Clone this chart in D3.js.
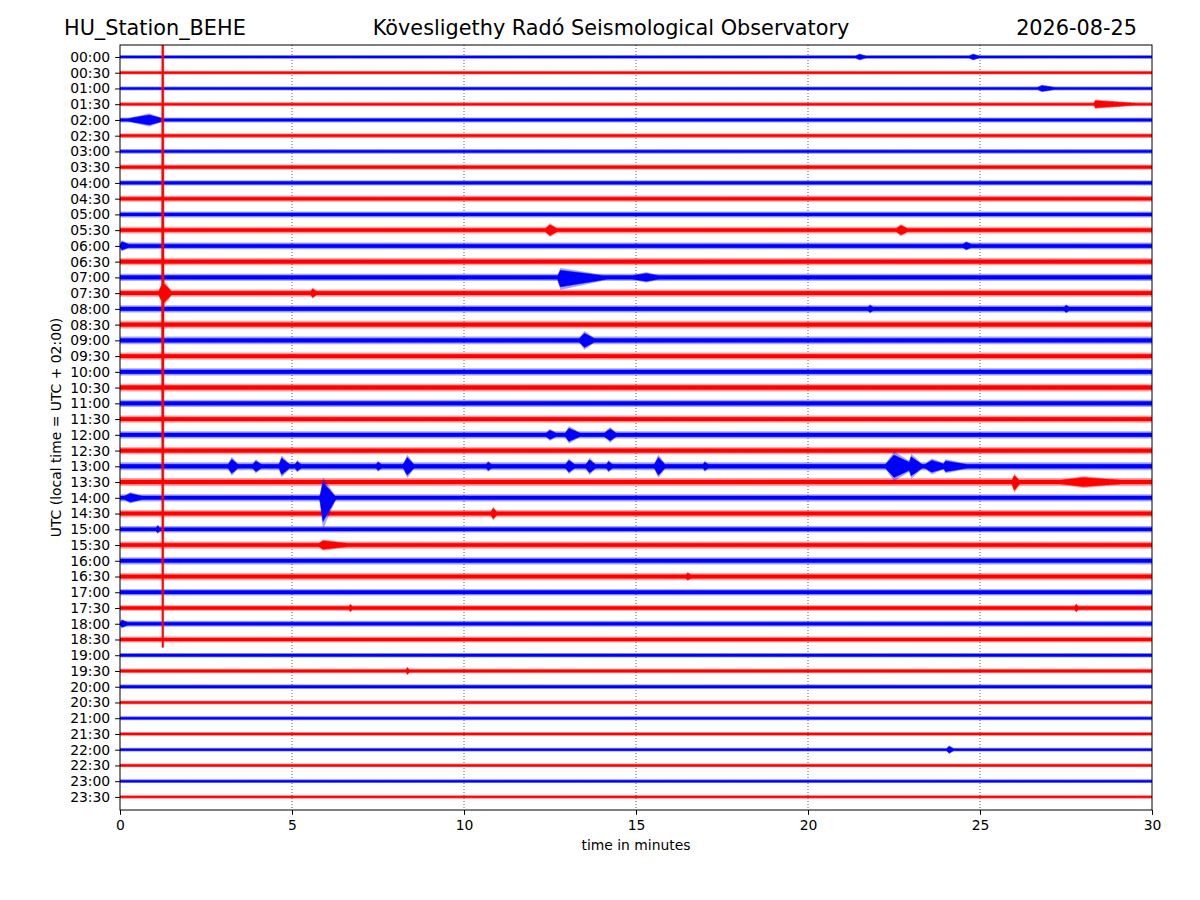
<!DOCTYPE html>
<html>
<head>
<meta charset="utf-8">
<script src="https://cdn.jsdelivr.net/npm/d3@7"></script>
<style>
  body { margin: 0; background: #fff; }
  text { font-family: "DejaVu Sans", sans-serif; }
</style>
</head>
<body>
<script>
// trace labels, one trace every 30 minutes
var traceLabels = ['00:00','00:30','01:00','01:30','02:00','02:30','03:00','03:30','04:00','04:30',
  '05:00','05:30','06:00','06:30','07:00','07:30','08:00','08:30','09:00','09:30',
  '10:00','10:30','11:00','11:30','12:00','12:30','13:00','13:30','14:00','14:30',
  '15:00','15:30','16:00','16:30','17:00','17:30','18:00','18:30','19:00','19:30',
  '20:00','20:30','21:00','21:30','22:00','22:30','23:00','23:30']

// background noise half-width of each trace (in trace spacings)
var noiseLevel = [0.12,0.12,0.13,0.13,0.16,0.15,0.15,0.17,0.17,0.19,
  0.19,0.21,0.22,0.23,0.23,0.23,0.23,0.25,0.25,0.23,
  0.23,0.25,0.23,0.23,0.23,0.23,0.25,0.25,0.23,0.23,
  0.21,0.23,0.23,0.23,0.21,0.19,0.19,0.19,0.15,0.15,
  0.15,0.13,0.13,0.12,0.12,0.12,0.12,0.11]

// events: [trace, start min, peak min, end min, amplitude up, amplitude down, hold min]
var events = [
  [0, 21.3, 21.5, 21.8, 0.22, 0.22], [0, 24.6, 24.8, 25.1, 0.22, 0.22],
  [2, 26.6, 26.8, 27.4, 0.24, 0.24],
  [3, 28.3, 28.35, 30, 0.3, 0.3],
  [4, 0, 0.85, 1.4, 0.42, 0.42],
  [11, 12.3, 12.5, 12.8, 0.45, 0.45], [11, 22.5, 22.7, 23.0, 0.4, 0.4],
  [12, 0, 0.05, 0.4, 0.35, 0.35], [12, 24.4, 24.6, 24.9, 0.3, 0.3],
  [14, 12.7, 12.8, 14.5, 0.6, 0.8], [14, 14.5, 15.3, 16.0, 0.33, 0.33],
  [15, 1.1, 1.25, 1.55, 0.9, 0.9], [15, 1.21, 1.22, 1.28, 22.5, 22.5, 0.045], [15, 5.5, 5.6, 5.8, 0.36, 0.36],
  [16, 21.7, 21.8, 22.0, 0.3, 0.3], [16, 27.4, 27.5, 27.7, 0.3, 0.3],
  [18, 13.3, 13.5, 13.9, 0.6, 0.6],
  [24, 12.3, 12.5, 12.8, 0.38, 0.38], [24, 12.9, 13.05, 13.5, 0.55, 0.55], [24, 14.0, 14.25, 14.5, 0.5, 0.5],
  [26, 3.1, 3.25, 3.5, 0.6, 0.6], [26, 3.8, 3.95, 4.2, 0.45, 0.45], [26, 4.6, 4.7, 5.0, 0.7, 0.7],
  [26, 5.05, 5.15, 5.35, 0.4, 0.4], [26, 7.4, 7.5, 7.7, 0.35, 0.35], [26, 8.2, 8.35, 8.6, 0.75, 0.75],
  [26, 10.6, 10.7, 10.9, 0.35, 0.35], [26, 12.9, 13.05, 13.3, 0.5, 0.5], [26, 13.5, 13.65, 13.9, 0.55, 0.55],
  [26, 14.1, 14.2, 14.4, 0.4, 0.4], [26, 15.5, 15.65, 15.9, 0.75, 0.75], [26, 16.9, 17.0, 17.2, 0.35, 0.35],
  [26, 22.2, 22.5, 23.2, 0.95, 0.95], [26, 22.9, 23.0, 23.4, 0.8, 0.8], [26, 23.3, 23.6, 24.2, 0.5, 0.5],
  [26, 23.9, 24.0, 25.0, 0.45, 0.45],
  [27, 25.9, 26.0, 26.2, 0.55, 0.7], [27, 26.8, 28.0, 30, 0.38, 0.38],
  [28, 0, 0.3, 0.9, 0.36, 0.36], [28, 5.8, 5.9, 6.3, 1.3, 2.0],
  [29, 10.75, 10.85, 11.0, 0.45, 0.45],
  [30, 1.0, 1.1, 1.2, 0.3, 0.3],
  [31, 5.7, 5.9, 7.1, 0.36, 0.36],
  [33, 16.4, 16.5, 16.7, 0.3, 0.3],
  [35, 6.6, 6.7, 6.8, 0.28, 0.28], [35, 27.7, 27.8, 27.9, 0.3, 0.3],
  [36, 0, 0.05, 0.35, 0.3, 0.3],
  [39, 8.3, 8.35, 8.45, 0.28, 0.28],
  [44, 24.0, 24.1, 24.3, 0.28, 0.28]
]

var traceColors = ['blue', 'red']
var xTicks = [0, 5, 10, 15, 20, 25, 30]

var svg = d3.select('body').append('svg').attr('width', 1200).attr('height', 900)

var plot = {left: 120, right: 1152, top: 45, bottom: 810}

var x = d3.scaleLinear().domain([0, 30]).range([plot.left, plot.right])
var y = d3.scaleLinear().domain([-0.76, 47.83]).range([plot.top, plot.bottom])
var unit = y(1) - y(0)

svg.append('defs').append('clipPath').attr('id', 'clip')
  .append('rect').attr('x', plot.left).attr('y', plot.top)
  .attr('width', plot.right - plot.left).attr('height', plot.bottom - plot.top)

// dotted grid
svg.append('g').selectAll('line').data(xTicks.slice(1, -1)).enter().append('line')
  .attr('x1', function(d){return x(d)}).attr('x2', function(d){return x(d)})
  .attr('y1', plot.top).attr('y2', plot.bottom)
  .attr('stroke', '#333').attr('stroke-width', 0.8).attr('stroke-dasharray', '1,2')

// envelope of trace i at time t: [outer up, outer down, core up, core down]
var envelope = function(i, t) {
  var n = noiseLevel[i], eu = 0, ed = 0, cu = 0, cd = 0
  events.forEach(function(e) {
    var hold = e[6] || 0
    if (e[0] !== i || t < e[1] || t > e[3]) return
    var f
    if (t <= e[2]) f = e[2] === e[1] ? 1 : (t - e[1]) / (e[2] - e[1])
    else if (t <= e[2] + hold) f = 1
    else f = 1 - (t - e[2] - hold) / (e[3] - e[2] - hold)
    var k = hold ? 1 : 0.75
    eu = Math.max(eu, e[4] * f)
    ed = Math.max(ed, e[5] * f)
    cu = Math.max(cu, e[4] * f * k)
    cd = Math.max(cd, e[5] * f * k)
  })
  return [Math.max(n, eu), Math.max(n, ed), Math.max(0.5 * n, cu), Math.max(0.5 * n, cd)]
}

var traces = traceLabels.map(function(lab, i) {
  var ts = d3.range(0, 30.0001, 0.02)
  events.forEach(function(e){ if (e[0] === i) ts.push(e[1], e[2], e[2] + (e[6] || 0), e[3]) })
  ts.sort(d3.ascending)
  return {i: i, pts: ts.map(function(t){ return {t: t, env: envelope(i, t)} })}
})
// biggest trace on top
traces.sort(function(a, b){ return d3.max(a.pts, function(p){return p.env[0]}) - d3.max(b.pts, function(p){return p.env[0]}) })

var makeArea = function(cy, k) {
  return d3.area()
    .x(function(p){return x(p.t)})
    .y0(function(p){return cy + p.env[k + 1] * unit})
    .y1(function(p){return cy - p.env[k] * unit})
}

var g = svg.append('g').attr('clip-path', 'url(#clip)')
traces.forEach(function(tr) {
  var cy = y(tr.i)
  var col = traceColors[tr.i % 2]
  g.append('path').attr('d', makeArea(cy, 0)(tr.pts)).attr('fill', col).attr('fill-opacity', 0.35)
  g.append('path').attr('d', makeArea(cy, 2)(tr.pts)).attr('fill', col)
    .attr('stroke', col).attr('stroke-width', 0.5)
})

// frame
svg.append('rect').attr('x', plot.left).attr('y', plot.top)
  .attr('width', plot.right - plot.left).attr('height', plot.bottom - plot.top)
  .attr('fill', 'none').attr('stroke', 'black').attr('stroke-width', 1)

// axes
var styleAxis = function(a) {
  a.select('.domain').remove()
  a.selectAll('text').attr('font-size', 13.9).attr('font-family', 'DejaVu Sans')
}
var xAxis = d3.axisBottom(x).tickValues(xTicks).tickFormat(d3.format('d')).tickSize(4.9).tickPadding(4.9)
svg.append('g').attr('transform', 'translate(0,' + plot.bottom + ')').call(xAxis).call(styleAxis)

var yAxis = d3.axisLeft(y).tickValues(d3.range(48)).tickFormat(function(d){return traceLabels[d]}).tickSize(4.9).tickPadding(4.9)
svg.append('g').attr('transform', 'translate(' + plot.left + ',0)').call(yAxis).call(styleAxis)

svg.append('text').attr('x', (plot.left + plot.right) / 2).attr('y', 850)
  .attr('text-anchor', 'middle').attr('font-size', 13.9).text('time in minutes')
svg.append('text').attr('transform', 'translate(61,' + ((plot.top + plot.bottom) / 2) + ') rotate(-90)')
  .attr('text-anchor', 'middle').attr('font-size', 13.9).text('UTC (local time = UTC + 02:00)')

// titles
svg.append('text').attr('x', 64).attr('y', 35).attr('font-size', 20.8).text('HU_Station_BEHE')
svg.append('text').attr('x', 611).attr('y', 35).attr('text-anchor', 'middle').attr('font-size', 20.8)
  .text('Kövesligethy Radó Seismological Observatory')
svg.append('text').attr('x', 1137).attr('y', 35).attr('text-anchor', 'end').attr('font-size', 20.8).text('2026-08-25')
</script>
</body>
</html>
